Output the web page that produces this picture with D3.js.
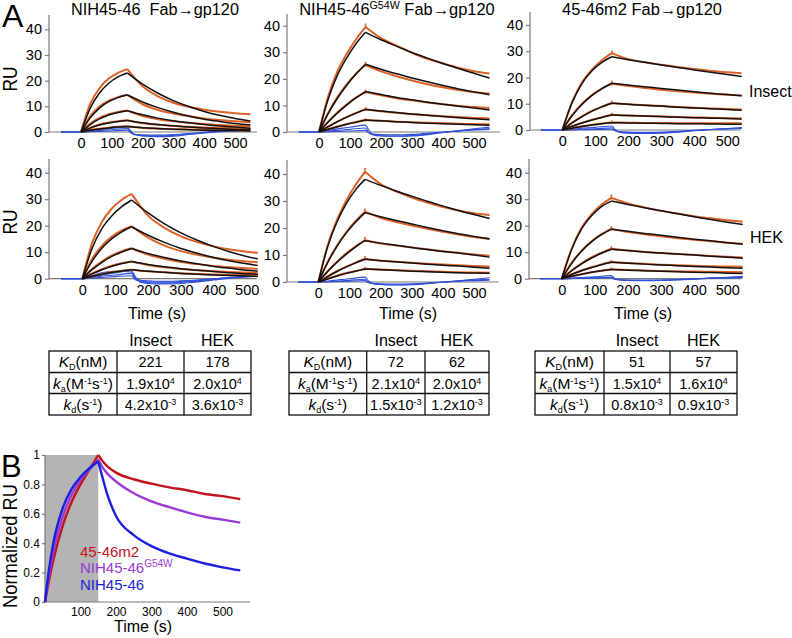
<!DOCTYPE html>
<html><head><meta charset="utf-8">
<script src="https://cdn.jsdelivr.net/npm/d3@7"></script>
<style>body{margin:0;background:#fff} text{font-family:"Liberation Sans",Arial,Helvetica,sans-serif}</style>
</head><body><svg id="c" width="792" height="638"></svg>
<script>
// ---------------- DATA ----------------
const sensorTimes = [0,30,60,90,120,150,200,250,300,350,400,450,500,550];
const bufferTimes = [-65,0,50,100,150,160,175,200,250,300,350,400,450,500,550];
const ruTicks = [0,10,20,30,40];
const timeTicks = [0,100,200,300,400,500];

// NIH45-46, Insect
const nihInsectData = [
 [0,11.0,17.0,20.8,23.0,24.5,17.8,13.9,11.4,9.8,8.7,7.9,7.3,6.9],
 [0,6.2,9.9,12.2,13.6,14.4,10.8,8.6,7.2,6.1,5.3,4.7,4.2,3.8],
 [0,3.3,5.5,6.9,7.8,8.4,6.2,5.0,4.2,3.6,3.1,2.7,2.4,2.2],
 [0,1.7,2.9,3.7,4.2,4.6,3.4,2.8,2.4,2.0,1.8,1.6,1.4,1.3],
 [0,0.8,1.3,1.7,2.0,2.2,1.6,1.3,1.1,1.0,0.9,0.8,0.8,0.7]];
const nihInsectFit = [
 [0,9.3,15.2,19.0,21.5,23.0,18.6,15.1,12.2,9.9,8.0,6.5,5.3,4.3],
 [0,5.5,9.3,11.8,13.4,14.5,11.7,9.5,7.7,6.2,5.0,4.1,3.3,2.7],
 [0,2.9,5.1,6.6,7.6,8.3,6.7,5.4,4.4,3.6,2.9,2.3,1.9,1.5],
 [0,1.5,2.7,3.5,4.1,4.5,3.6,2.9,2.4,1.9,1.6,1.3,1.0,0.8],
 [0,0.7,1.2,1.6,1.9,2.1,1.7,1.4,1.1,0.9,0.7,0.6,0.5,0.4]];
const nihInsectBuffer = [
 [0,0,0.8,1.4,1.9,0.6,-1.0,-1.5,-1.8,-1.6,-1.0,-0.4,0.1,0.5,0.9],
 [0,0,0.5,0.9,1.3,0.0,-1.1,-1.4,-1.5,-1.3,-0.8,-0.3,0.2,0.7,1.1],
 [0,0,0.2,0.4,0.7,-0.2,-0.9,-1.1,-1.2,-1.0,-0.6,-0.1,0.4,0.9,1.4]];

// NIH45-46, HEK
const nihHekData = [
 [0,13.5,21.5,26.5,29.8,32.0,23.8,19.2,16.0,13.8,12.2,11.0,10.2,9.6],
 [0,7.5,12.5,15.9,18.2,19.8,15.5,12.5,10.4,9.0,7.9,7.1,6.5,6.1],
 [0,3.8,6.6,8.8,10.4,11.5,9.1,7.5,6.3,5.5,4.8,4.3,3.9,3.6],
 [0,2.0,3.6,4.9,5.8,6.5,5.2,4.3,3.7,3.2,2.8,2.5,2.3,2.1],
 [0,1.0,1.8,2.5,3.0,3.4,2.8,2.4,2.1,1.8,1.6,1.5,1.4,1.3]];
const nihHekFit = [
 [0,11.5,19.0,23.8,27.2,29.7,24.8,20.7,17.3,14.5,12.1,10.1,8.4,7.1],
 [0,6.6,11.6,15.1,17.7,19.6,16.4,13.7,11.4,9.6,8.0,6.7,5.6,4.7],
 [0,3.4,6.2,8.4,10.1,11.4,9.5,8.0,6.7,5.6,4.6,3.9,3.2,2.7],
 [0,1.8,3.4,4.7,5.7,6.5,5.4,4.5,3.8,3.2,2.7,2.2,1.9,1.6],
 [0,0.9,1.7,2.4,2.9,3.4,2.8,2.4,2.0,1.7,1.4,1.2,1.0,0.8]];
const nihHekBuffer = [
 [0,0,1.2,2.2,3.0,1.0,-1.2,-1.8,-2.0,-1.8,-1.2,-0.5,0.2,0.7,1.0],
 [0,0,0.8,1.4,2.0,0.2,-1.0,-1.5,-1.7,-1.4,-0.9,-0.3,0.3,0.8,1.3],
 [0,0,0.4,0.8,1.1,-0.3,-0.8,-1.2,-1.3,-1.1,-0.7,-0.1,0.4,0.9,1.6],
 [0,0,2.0,2.8,2.5,0.5,-0.5,-0.8,-1.0,-0.8,-0.5,0.0,0.5,1.0,1.4]];

// NIH45-46 G54W, Insect
const g54wInsectData = [
 [0,13.5,23.0,29.5,35.0,39.5,35.3,32.5,29.8,27.5,25.8,24.2,22.9,22.0],
 [0,7.3,13.2,18.0,22.0,25.2,22.8,21.0,19.4,18.0,16.8,15.8,15.0,14.5],
 [0,4.0,7.4,10.4,13.0,15.0,13.8,12.7,11.9,11.1,10.4,9.8,9.4,9.0],
 [0,2.1,4.0,5.7,7.2,8.6,7.8,7.2,6.7,6.3,5.9,5.6,5.3,5.1],
 [0,1.1,2.1,3.0,3.8,4.5,4.2,3.9,3.7,3.5,3.3,3.1,3.0,2.9]];
const g54wInsectFit = [
 [0,12.5,21.5,28.0,33.3,37.5,34.7,32.3,29.9,27.8,25.8,23.9,22.1,20.3],
 [0,7.0,12.8,17.7,21.9,25.5,23.6,21.9,20.3,18.9,17.5,16.2,15.1,14.0],
 [0,3.8,7.2,10.2,12.9,15.2,14.1,13.0,12.1,11.2,10.4,9.7,9.0,8.3],
 [0,2.0,3.9,5.6,7.1,8.5,7.9,7.3,6.8,6.3,5.8,5.4,5.0,4.6],
 [0,1.0,2.0,2.9,3.7,4.5,4.2,3.9,3.6,3.3,3.1,2.9,2.7,2.5]];
const g54wInsectBuffer = [
 [0,0,1.0,1.8,2.6,0.8,-1.0,-1.5,-1.6,-1.5,-1.0,-0.2,0.5,1.2,1.8],
 [0,0,0.5,1.0,1.5,-0.2,-1.1,-1.4,-1.5,-1.3,-0.8,-0.2,0.4,0.9,1.3],
 [0,0,0.2,0.4,0.6,-0.3,-0.8,-1.0,-1.1,-0.9,-0.5,0.0,0.4,0.8,1.0]];
const g54wInsectSpike = [40.8,26.4,16.0,9.4,5.2];

// NIH45-46 G54W, HEK
const g54wHekData = [
 [0,13.5,23.0,30.2,36.0,40.8,36.3,33.6,31.3,29.4,27.8,26.5,25.5,24.8],
 [0,7.4,13.5,18.5,22.6,26.0,23.8,22.2,20.9,19.7,18.6,17.6,16.7,16.0],
 [0,4.0,7.5,10.6,13.2,15.5,14.3,13.5,12.8,12.1,11.4,10.8,10.2,9.7],
 [0,2.1,4.0,5.7,7.2,8.6,7.9,7.5,7.1,6.8,6.5,6.2,5.9,5.7],
 [0,1.2,2.3,3.3,4.1,4.9,4.6,4.4,4.2,4.0,3.8,3.6,3.5,3.4]];
const g54wHekFit = [
 [0,13.0,22.2,29.0,34.2,38.0,35.8,33.7,31.8,29.9,28.2,26.5,25.0,23.5],
 [0,7.2,13.2,18.2,22.2,25.7,24.2,22.8,21.5,20.2,19.0,17.9,16.9,15.9],
 [0,3.9,7.3,10.3,13.0,15.3,14.4,13.6,12.8,12.0,11.3,10.7,10.0,9.2],
 [0,2.0,3.9,5.6,7.1,8.4,7.9,7.5,7.0,6.6,6.2,5.9,5.5,5.1],
 [0,1.1,2.2,3.2,4.0,4.8,4.5,4.3,4.0,3.8,3.6,3.4,3.3,3.2]];
const g54wHekBuffer = [
 [0,0,0.6,1.2,1.8,0.5,-0.5,-0.9,-1.1,-1.0,-0.6,-0.1,0.4,1.0,1.6],
 [0,0,0.3,0.6,1.0,0.0,-0.6,-0.9,-1.0,-0.9,-0.5,0.0,0.4,0.7,1.0],
 [0,0,0.1,0.3,0.5,-0.2,-0.5,-0.7,-0.8,-0.7,-0.4,0.0,0.3,0.5,0.7]];
const g54wHekSpike = [42.2,27.2,16.8,9.6,5.6];

// 45-46m2, Insect
const m2InsectData = [
 [0,10.8,18.2,23.0,26.6,29.3,27.0,25.8,24.9,24.0,23.2,22.5,22.0,21.6],
 [0,5.7,10.0,13.3,15.8,17.6,16.8,16.0,15.3,14.8,14.3,13.8,13.4,13.1],
 [0,2.8,5.2,7.3,8.9,10.3,9.8,9.4,9.1,8.8,8.5,8.2,8.0,7.8],
 [0,1.5,2.8,3.9,4.9,5.8,5.5,5.3,5.1,5.0,4.8,4.7,4.5,4.4],
 [0,0.7,1.4,2.0,2.5,2.9,2.8,2.7,2.7,2.6,2.6,2.6,2.6,2.6]];
const m2InsectFit = [
 [0,10.5,17.8,22.6,25.8,27.9,26.8,25.8,24.8,23.8,22.9,22.0,21.1,20.3],
 [0,5.5,9.8,13.2,15.8,17.8,17.1,16.5,15.8,15.2,14.6,14.0,13.5,13.0],
 [0,2.7,5.1,7.2,8.8,10.2,9.8,9.4,9.1,8.7,8.4,8.1,7.8,7.5],
 [0,1.4,2.7,3.8,4.8,5.7,5.5,5.3,5.1,4.9,4.7,4.5,4.4,4.2],
 [0,0.7,1.3,1.9,2.4,2.8,2.7,2.6,2.5,2.4,2.35,2.3,2.2,2.2]];
const m2InsectBuffer = [
 [0,0,0.6,1.0,1.5,0.2,-0.9,-1.2,-1.3,-1.2,-0.8,-0.3,0.2,0.6,1.0],
 [0,0,0.3,0.5,0.8,-0.2,-0.8,-1.0,-1.1,-1.0,-0.7,-0.2,0.2,0.5,0.8],
 [0,0,0.1,0.2,0.3,-0.3,-0.6,-0.8,-0.9,-0.8,-0.5,-0.1,0.2,0.4,0.6]];
const m2InsectSpike = [30.3,18.8,11.2,6.6,3.6];

// 45-46m2, HEK
const m2HekData = [
 [0,11.3,19.2,24.3,27.9,30.5,28.4,26.9,25.6,24.6,23.6,22.8,22.1,21.5],
 [0,6.0,10.6,14.1,16.8,18.8,17.6,16.8,16.0,15.3,14.7,14.1,13.6,13.2],
 [0,3.1,5.8,8.0,9.8,11.3,10.6,10.1,9.7,9.3,9.0,8.6,8.3,8.0],
 [0,1.7,3.1,4.3,5.4,6.3,5.9,5.6,5.3,5.1,4.9,4.7,4.6,4.5],
 [0,0.9,1.7,2.4,3.0,3.6,3.3,3.1,2.9,2.8,2.7,2.6,2.5,2.4]];
const m2HekFit = [
 [0,11.0,18.8,23.8,27.2,29.3,28.0,26.8,25.6,24.5,23.4,22.3,21.3,20.4],
 [0,5.8,10.4,13.9,16.6,18.7,17.9,17.1,16.4,15.6,14.9,14.3,13.6,13.0],
 [0,3.0,5.6,7.8,9.6,11.1,10.6,10.1,9.7,9.3,8.9,8.5,8.1,7.7],
 [0,1.6,3.0,4.2,5.3,6.2,5.8,5.5,5.2,4.9,4.6,4.4,4.1,3.9],
 [0,0.9,1.7,2.4,3.0,3.5,3.2,3.0,2.8,2.6,2.4,2.3,2.1,2.0]];
const m2HekBuffer = [
 [0,0,0.4,0.7,1.2,0.1,-0.5,-0.7,-0.8,-0.7,-0.5,-0.2,0.2,0.5,0.9],
 [0,0,0.2,0.4,0.6,-0.1,-0.4,-0.6,-0.7,-0.6,-0.4,-0.1,0.2,0.4,0.6],
 [0,0,0.1,0.2,0.3,-0.2,-0.4,-0.5,-0.5,-0.5,-0.3,0.0,0.2,0.3,0.4]];
const m2HekSpike = [31.8,19.8,12.2,7.1,4.2];

// Kinetic tables
const kineticHeaders = ["Insect","HEK"];
const nihKinetics  = [["221","178"],["1.9x10^4","2.0x10^4"],["4.2x10^-3","3.6x10^-3"]];
const g54wKinetics = [["72","62"],["2.1x10^4","2.0x10^4"],["1.5x10^-3","1.2x10^-3"]];
const m2Kinetics   = [["51","57"],["1.5x10^4","1.6x10^4"],["0.8x10^-3","0.9x10^-3"]];

// Panel B (normalized)
const normTimes = [0,10,25,50,75,100,125,150,160,175,200,250,300,350,400,450,500,550];
const m2Norm   = [0,0.13,0.30,0.52,0.68,0.80,0.90,1.0,0.965,0.925,0.88,0.835,0.805,0.78,0.76,0.735,0.72,0.70];
const g54wNorm = [0,0.16,0.36,0.58,0.73,0.83,0.90,0.97,0.925,0.875,0.82,0.74,0.685,0.645,0.61,0.58,0.56,0.54];
const nihNorm  = [0,0.20,0.42,0.64,0.77,0.85,0.91,0.955,0.865,0.735,0.585,0.455,0.38,0.33,0.295,0.262,0.236,0.215];
const normTicksY = [0,0.2,0.4,0.6,0.8,1];
const normTicksX = [100,200,300,400,500];
const injectionWindow = [0,150];

// ---------------- DRAWING ----------------
const svg = d3.select("#c");
const defs = svg.append("defs");
const FONT = '"Liberation Sans",Arial,Helvetica,sans-serif';
const AXIS = "#7a7a7a";
const ORANGE = "#de6126", BLUE = "#2f50d6";

const panels = [
 {data:nihInsectData, fit:nihInsectFit, buf:nihInsectBuffer, spike:null, ax:49, x0:81, x5:235, xr:257, y0:132, y4:29.3, yt:15},
 {data:nihHekData, fit:nihHekFit, buf:nihHekBuffer, spike:null, ax:49, x0:82.3, x5:246.7, xr:256.7, y0:278.7, y4:172.7, yt:159},
 {data:g54wInsectData, fit:g54wInsectFit, buf:g54wInsectBuffer, spike:g54wInsectSpike, ax:287, x0:319, x5:474, xr:500, y0:132, y4:25.7, yt:14},
 {data:g54wHekData, fit:g54wHekFit, buf:g54wHekBuffer, spike:g54wHekSpike, ax:287, x0:318.3, x5:474, xr:498.7, y0:282, y4:174, yt:160},
 {data:m2InsectData, fit:m2InsectFit, buf:m2InsectBuffer, spike:m2InsectSpike, ax:530, x0:562.3, x5:727.3, xr:740.7, y0:130, y4:25, yt:12},
 {data:m2HekData, fit:m2HekFit, buf:m2HekBuffer, spike:m2HekSpike, ax:529, x0:561.7, x5:727.3, xr:741.7, y0:278.7, y4:172.7, yt:159}
];

panels.forEach((p,i) => {
  const x = d3.scaleLinear().domain([0,500]).range([p.x0,p.x5]);
  const y = d3.scaleLinear().domain([0,40]).range([p.y0,p.y4]);
  const g = svg.append("g");
  const cid = "clip"+i;
  defs.append("clipPath").attr("id",cid).append("rect")
    .attr("x",p.ax).attr("y",p.yt-6).attr("width",p.xr-p.ax+1).attr("height",p.y0-p.yt+20);

  const ya = d3.axisLeft(y).tickValues(ruTicks).tickSize(4).tickPadding(3);
  const yg = g.append("g").attr("transform",`translate(${p.ax},0)`).call(ya);
  yg.select(".domain").remove();
  yg.selectAll("line").attr("stroke",AXIS).attr("stroke-width",1.2);
  yg.selectAll("text").attr("font-size",14.5).attr("font-family",FONT).attr("fill","#000");
  g.append("line").attr("x1",p.ax).attr("x2",p.ax).attr("y1",p.y0).attr("y2",p.yt).attr("stroke",AXIS).attr("stroke-width",1.2);

  const xa = d3.axisBottom(x).tickValues(timeTicks).tickSize(0).tickPadding(6);
  const xg = g.append("g").attr("transform",`translate(0,${p.y0})`).call(xa);
  xg.select(".domain").remove();
  xg.selectAll("text").attr("font-size",14.5).attr("font-family",FONT).attr("fill","#000");
  g.append("line").attr("x1",p.ax).attr("x2",p.xr).attr("y1",p.y0).attr("y2",p.y0).attr("stroke",AXIS).attr("stroke-width",1.2);

  const plot = g.append("g").attr("clip-path",`url(#${cid})`);
  const lineB = d3.line().x((d,j)=>x(bufferTimes[j])).y(d=>y(d)).curve(d3.curveMonotoneX);
  p.buf.forEach(s => plot.append("path").attr("d",lineB(s)).attr("fill","none").attr("stroke",BLUE).attr("stroke-width",1.1));

  const seg = (s) => [s.slice(0,6).map((v,j)=>[sensorTimes[j],v]), s.slice(5).map((v,j)=>[sensorTimes[j+5],v])];
  const lineS = d3.line().x(d=>x(d[0])).y(d=>y(d[1])).curve(d3.curveMonotoneX);
  p.data.forEach((s,k) => {
    seg(s).forEach(part =>
      plot.append("path").attr("d",lineS(part)).attr("fill","none").attr("stroke",ORANGE).attr("stroke-width",2));
    if (p.spike) plot.append("line").attr("x1",x(sensorTimes[5])).attr("x2",x(sensorTimes[5]))
      .attr("y1",y(s[5]-0.6)).attr("y2",y(p.spike[k])).attr("stroke",ORANGE).attr("stroke-width",1.6);
  });
  p.fit.forEach(s => seg(s).forEach(part =>
    plot.append("path").attr("d",lineS(part)).attr("fill","none").attr("stroke","#111").attr("stroke-width",1.5)));
});

function txt(x,y,s,size,anchor){
  return svg.append("text").attr("x",x).attr("y",y).attr("font-size",size).attr("font-family",FONT)
    .attr("text-anchor",anchor||"start").attr("fill","#000").text(s);
}
function fitWidth(t, target, base){
  const w = t.node().getComputedTextLength();
  if (w>0) t.attr("font-size", base*target/w);
  return t;
}
// Titles
fitWidth(txt(155,15,"NIH45-46\u00a0 Fab\u2192gp120",16,"middle"),168,16);
{
  const t = svg.append("text").attr("x",397).attr("y",15).attr("font-size",16).attr("font-family",FONT).attr("text-anchor","middle");
  t.append("tspan").text("NIH45-46");
  t.append("tspan").attr("font-size",10.5).attr("dy",-6).text("G54W");
  t.append("tspan").attr("dy",6).text(" Fab\u2192gp120");
  const w = t.node().getComputedTextLength();
  const f = 16*196/w;
  t.attr("font-size",f); t.select("tspan:nth-child(2)").attr("font-size",f*0.65).attr("dy",-f*0.38);
  t.select("tspan:nth-child(3)").attr("dy",f*0.38);
}
fitWidth(txt(642,15,"45-46m2 Fab\u2192gp120",16,"middle"),160,16);
txt(2,27,"A",32);
txt(1,477,"B",31);
txt(749,97,"Insect",16);
txt(750,243,"HEK",16);
[79,222].forEach(cy => svg.append("text").attr("transform",`translate(17,${cy}) rotate(-90)`)
  .attr("font-size",20).attr("font-family",FONT).attr("text-anchor","middle")
  .attr("textLength",25).attr("lengthAdjust","spacingAndGlyphs").text("RU"));
[157,408,643].forEach(cx => txt(cx,319,"Time (s)",16,"middle"));

// Tables
const tables = [
  {vals:nihKinetics, cols:[49,117,184,251]},
  {vals:g54wKinetics, cols:[289,366.7,425,489]},
  {vals:m2Kinetics, cols:[535,604,670,737]}
];
const rowsY = [351,372.5,393.5,415];
function rowLabel(t,k){
  if(k===0){
    t.append("tspan").attr("font-style","italic").text("K");
    t.append("tspan").attr("font-size",9).attr("dy",3).text("D");
    t.append("tspan").attr("dy",-3).text("(nM)");
  } else if(k===1){
    t.append("tspan").attr("font-style","italic").text("k");
    t.append("tspan").attr("font-size",9).attr("dy",3).text("a");
    t.append("tspan").attr("dy",-3).text("(M");
    t.append("tspan").attr("font-size",9).attr("dy",-5).text("-1");
    t.append("tspan").attr("dy",5).text("s");
    t.append("tspan").attr("font-size",9).attr("dy",-5).text("-1");
    t.append("tspan").attr("dy",5).text(")");
  } else {
    t.append("tspan").attr("font-style","italic").text("k");
    t.append("tspan").attr("font-size",9).attr("dy",3).text("d");
    t.append("tspan").attr("dy",-3).text("(s");
    t.append("tspan").attr("font-size",9).attr("dy",-5).text("-1");
    t.append("tspan").attr("dy",5).text(")");
  }
}
tables.forEach(tb => {
  const c = tb.cols;
  const g = svg.append("g");
  g.append("rect").attr("x",c[0]).attr("y",rowsY[0]).attr("width",c[3]-c[0]).attr("height",rowsY[3]-rowsY[0])
    .attr("fill","none").attr("stroke","#111").attr("stroke-width",1.3);
  [1,2].forEach(k => g.append("line").attr("x1",c[k]).attr("x2",c[k]).attr("y1",rowsY[0]).attr("y2",rowsY[3]).attr("stroke","#111").attr("stroke-width",1.3));
  [1,2].forEach(k => g.append("line").attr("x1",c[0]).attr("x2",c[3]).attr("y1",rowsY[k]).attr("y2",rowsY[k]).attr("stroke","#111").attr("stroke-width",1.3));
  kineticHeaders.forEach((h,k) => txt((c[k+1]+c[k+2])/2,346,h,16,"middle"));
  [0,1,2].forEach(r => {
    const cy = (rowsY[r]+rowsY[r+1])/2 + 5.5;
    const t = svg.append("text").attr("x",(c[0]+c[1])/2).attr("y",cy).attr("font-size",15.5).attr("font-family",FONT).attr("text-anchor","middle");
    rowLabel(t,r);
    tb.vals[r].forEach((v,k) => {
      const tt = svg.append("text").attr("x",(c[k+1]+c[k+2])/2).attr("y",cy).attr("font-size",14.5).attr("font-family",FONT).attr("text-anchor","middle");
      const parts = v.split("^");
      tt.append("tspan").text(parts[0]);
      if(parts[1]) tt.append("tspan").attr("font-size",9).attr("dy",-5).text(parts[1]);
    });
  });
});

// Panel B
{
  const x = d3.scaleLinear().domain([0,500]).range([45,222.5]);
  const y = d3.scaleLinear().domain([0,1]).range([602,455]);
  const g = svg.append("g");
  g.append("rect").attr("x",x(injectionWindow[0])).attr("y",y(1)).attr("width",x(injectionWindow[1])-x(injectionWindow[0]))
    .attr("height",y(0)-y(1)).attr("fill","#b4b4b4");
  const ya = d3.axisLeft(y).tickValues(normTicksY).tickSize(3).tickPadding(2).tickFormat(d=>d===0?"0":d===1?"1":d3.format(".1f")(d));
  const yg = g.append("g").attr("transform","translate(45,0)").call(ya);
  yg.select(".domain").remove();
  yg.selectAll("line").attr("stroke",AXIS).attr("stroke-width",1.2);
  yg.selectAll("text").attr("font-size",12).attr("font-family",FONT).attr("fill","#000");
  g.append("line").attr("x1",45).attr("x2",45).attr("y1",y(0)).attr("y2",y(1)).attr("stroke",AXIS).attr("stroke-width",1.2);
  const xa = d3.axisBottom(x).tickValues(normTicksX).tickSize(0).tickPadding(5);
  const xg = g.append("g").attr("transform","translate(0,602)").call(xa);
  xg.select(".domain").remove();
  xg.selectAll("text").attr("font-size",12).attr("font-family",FONT).attr("fill","#000");
  g.append("line").attr("x1",45).attr("x2",250).attr("y1",602).attr("y2",602).attr("stroke",AXIS).attr("stroke-width",1.2);

  const line = d3.line().x(d=>x(d[0])).y(d=>y(d[1])).curve(d3.curveMonotoneX);
  const series = [[m2Norm,"#c0141c"],[g54wNorm,"#9b3bd6"],[nihNorm,"#1c1fdc"]];
  series.forEach(([s,col]) => {
    const pts = s.map((v,j)=>[normTimes[j],v]);
    [pts.slice(0,8), pts.slice(7)].forEach(part =>
      g.append("path").attr("d",line(part)).attr("fill","none").attr("stroke",col).attr("stroke-width",2.4));
  });
  txt(80,557,"45-46m2",15).attr("fill","#c0141c");
  const t2 = txt(80,573,"",15).attr("fill","#9b3bd6");
  t2.append("tspan").text("NIH45-46");
  t2.append("tspan").attr("font-size",10).attr("dy",-6).text("G54W");
  txt(80,590,"NIH45-46",15).attr("fill","#1c1fdc");
  txt(143,632,"Time (s)",16,"middle");
  svg.append("text").attr("transform","translate(17,546) rotate(-90)").attr("font-size",20).attr("font-family",FONT)
    .attr("text-anchor","middle").attr("textLength",124).attr("lengthAdjust","spacingAndGlyphs").attr("fill","#000").text("Normalized RU");
}
</script></body></html>
